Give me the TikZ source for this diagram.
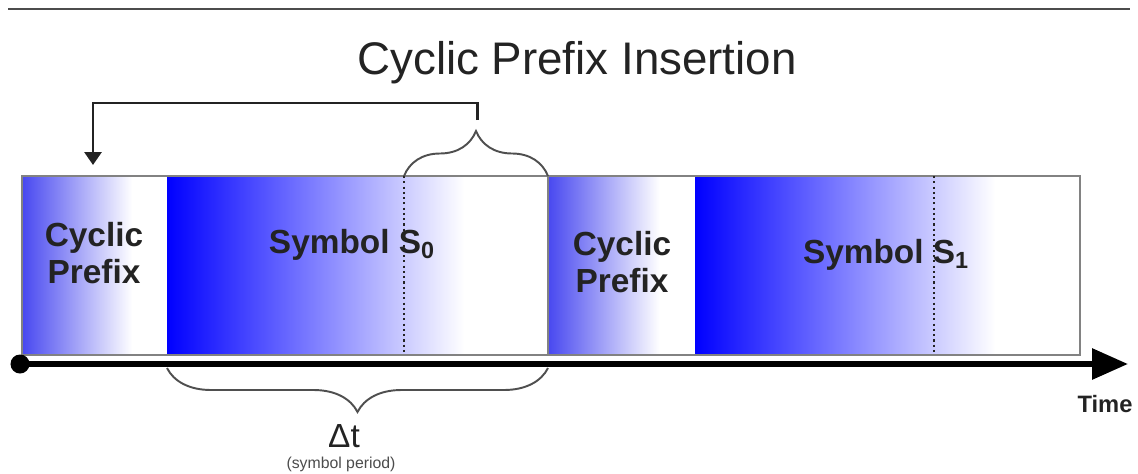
\documentclass[tikz,border=0pt]{standalone}
\usepackage{fontspec}
\setmainfont{Liberation Sans}
\definecolor{cpblue}{RGB}{72, 72, 240}
\definecolor{symblue}{RGB}{0, 0, 255}
\definecolor{framegray}{RGB}{130, 130, 130}
\definecolor{inkgray}{RGB}{35, 35, 35}
\usetikzlibrary{arrows.meta, positioning, decorations.pathreplacing}
\pgfdeclarehorizontalshading{cpfade}{100bp}{color(0bp)=(cpblue); color(25bp)=(cpblue); color(63bp)=(white); color(100bp)=(white)}
\pgfdeclarehorizontalshading{symfade}{100bp}{color(0bp)=(symblue); color(25bp)=(symblue); color(64bp)=(white); color(100bp)=(white)}

\begin{document}
\begin{tikzpicture}[
  seg/.style={shade, minimum height=3.58cm, inner sep=0pt, outer sep=0pt, anchor=west},
  lbl/.style={font=\fontsize{19}{21}\selectfont\bfseries, text=inkgray, align=center},
  divline/.style={draw=inkgray, line width=1pt, dash pattern=on 1.2pt off 1.8pt},
  curly/.style={draw=inkgray!80, line width=1.1pt, decorate, decoration={brace, aspect=0.5, amplitude=#1}},
]
  \useasboundingbox (0,0) rectangle (22.76,9.46);

  % Top rule
  \coordinate (rulel) at (0.16, 9.28);
  \coordinate (ruler) at (22.6, 9.28);
  \draw[line width=1.1pt, draw=black!70] (rulel) -- (ruler);

  % Title
  \node[font=\fontsize{26}{31}\selectfont, text=inkgray, anchor=base] (title) at (11.54, 7.96) {Cyclic Prefix Insertion};

  % Frame segments
  \node[seg, shading=cpfade, minimum width=2.9cm] (cp1) at (0.44, 4.15) {};
  \node[seg, shading=symfade, minimum width=7.62cm, right=0cm of cp1] (s0) {};
  \node[seg, shading=cpfade, minimum width=2.94cm, right=0cm of s0] (cp2) {};
  \node[seg, shading=symfade, minimum width=7.7cm, right=0cm of cp2] (s1) {};
  \draw[draw=framegray, line width=0.9pt] (cp1.north west) rectangle (s1.south east);
  \draw[draw=framegray, line width=0.9pt] (s0.north east) -- (s0.south east);

  % Copied tail of each symbol
  \coordinate (cut0) at (8.08, 5.94);
  \coordinate (cut1) at (18.68, 5.94);
  \draw[divline] (cut0) -- (cut0 |- s0.south);
  \draw[divline] (cut1) -- (cut1 |- s1.south);

  % Labels
  \node[lbl] (cp1lbl) at (1.88, 4.39) {Cyclic\\Prefix};
  \node[lbl] (cp2lbl) at (12.44, 4.21) {Cyclic\\Prefix};
  \node[lbl, anchor=base] (s0lbl) at (7.04, 4.4) {Symbol S\textsubscript{0}};
  \node[lbl, anchor=base] (s1lbl) at (17.72, 4.2) {Symbol S\textsubscript{1}};

  % Tail copied to the front
  \draw[curly=0.9cm] (cut0) -- (s0.north east);
  \coordinate (cpsrc) at (9.54, 7.06);
  \coordinate (cpdst) at (1.86, 6.16);
  \draw[draw=inkgray, line width=1.7pt, -{Triangle[length=0.26cm, width=0.34cm]}] (cpsrc) -- ++(0, 0.34) -| (cpdst);

  % Time axis
  \coordinate (t0) at (0.4, 2.18);
  \coordinate (tend) at (22.56, 2.18);
  \draw[line width=0.12cm, -{Triangle[length=0.72cm, width=0.6cm]}] (t0) -- (tend);
  \fill (t0) circle (0.19cm);
  \node[font=\fontsize{13.5}{16}\selectfont\bfseries, text=inkgray, anchor=base] (time) at (22.1, 1.22) {Time};

  % Symbol period
  \draw[curly=0.88cm] ([yshift=-0.26cm]s0.south east) -- ([yshift=-0.26cm]s0.south west);
  \node[font=\fontsize{19}{21}\selectfont, text=inkgray, anchor=base] (dt) at (6.88, 0.52) {Δt};
  \node[font=\fontsize{9}{10}\selectfont, text=black!70, anchor=base] (period) at (6.82, 0.1) {(symbol period)};
\end{tikzpicture}
\end{document}
